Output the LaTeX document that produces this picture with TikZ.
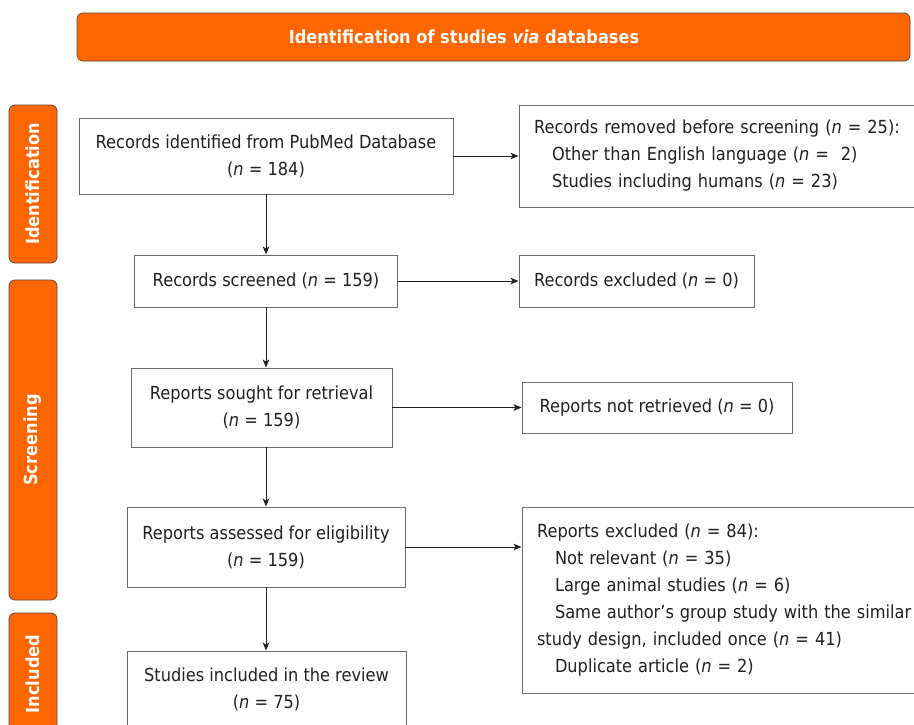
\documentclass[tikz,border=0pt]{standalone}
\usepackage{fontspec}
\setmainfont{DejaVu Sans}[FakeStretch=0.9]
\usetikzlibrary{arrows.meta}
\definecolor{orng}{HTML}{FF6600}
\definecolor{bord}{HTML}{5C4A3E}
\definecolor{boxline}{HTML}{6A6A6A}
\definecolor{txt}{HTML}{231F20}
\begin{document}
\begin{tikzpicture}[x=1pt,y=-1pt,
  box/.style={draw=boxline, line width=0.9pt, text=txt, inner sep=0pt,
    font=\fontsize{18}{27}\selectfont},
  cbox/.style={box, align=center},
  lbox/.style={box, align=left, inner xsep=15pt},
  phase/.style={draw=bord, fill=orng, rounded corners=6pt, line width=0.8pt,
    text=white, inner sep=0pt, font=\bfseries\fontsize{18}{18}\selectfont},
  arr/.style={draw=txt, line width=0.9pt, -{Stealth[length=8pt,width=6.5pt,inset=2pt]}}
]
\useasboundingbox (0,0) rectangle (914,724);

% title bar
\node[phase, minimum width=833pt, minimum height=48pt] (title) at (493.5,37) {};
\node[text=white, inner sep=0pt, font=\bfseries\fontsize{18}{18}\selectfont] (titletxt) at (464,37)
  {Identification of studies \textit{via} databases};

% phase bars
\node[phase, rotate=90, minimum width=158pt, minimum height=48pt] (idph) at (33,184) {Identification};
\node[phase, rotate=90, minimum width=320pt, minimum height=48pt] (scph) at (33,440) {Screening};
\node[phase, rotate=90, minimum width=122pt, minimum height=48pt] (incph) at (33,674) {Included};

% main column
\node[cbox, minimum width=374pt, minimum height=76pt] (rec) at (266,156)
  {Records identified from PubMed Database\\(\textit{n} = 184)};
\node[cbox, minimum width=263pt, minimum height=52pt] (scr) at (266,281)
  {Records screened (\textit{n} = 159)};
\node[cbox, minimum width=261pt, minimum height=79pt] (sou) at (261.5,407.5)
  {Reports sought for retrieval\\(\textit{n} = 159)};
\node[cbox, minimum width=278pt, minimum height=80pt] (ass) at (266,547)
  {Reports assessed for eligibility\\(\textit{n} = 159)};
\node[cbox, minimum width=279pt, minimum height=77pt] (inc) at (266.5,689.5)
  {Studies included in the review\\(\textit{n} = 75)};

% side boxes
\node[lbox, text width=400pt, minimum height=102pt] (rem) at (734,156)
  {Records removed before screening (\textit{n} = 25):\\
   \hspace*{18pt}Other than English language (\textit{n} =\ \ 2)\\
   \hspace*{18pt}Studies including humans (\textit{n} = 23)};
\node[cbox, minimum width=235pt, minimum height=52pt] (exc) at (636.5,281)
  {Records excluded (\textit{n} = 0)};
\node[cbox, minimum width=270pt, minimum height=51pt] (nret) at (657,407.5)
  {Reports not retrieved (\textit{n} = 0)};
\node[lbox, text width=400pt, minimum height=186pt] (rexc) at (737,600)
  {Reports excluded (\textit{n} = 84):\\
   \hspace*{18pt}Not relevant (\textit{n} = 35)\\
   \hspace*{18pt}Large animal studies (\textit{n} = 6)\\
   \hspace*{18pt}Same author’s group study with the similar\\
   study design, included once (\textit{n} = 41)\\
   \hspace*{18pt}Duplicate article (\textit{n} = 2)};

% connectors
\draw[arr] (rec.south) -- (rec.south |- scr.north);
\draw[arr] (scr.south) -- (scr.south |- sou.north);
\draw[arr] (scr.south |- sou.south) -- (scr.south |- ass.north);
\draw[arr] (ass.south) -- (ass.south |- inc.north);
\draw[arr] (rec.east) -- (rec.east -| rem.west);
\draw[arr] (scr.east) -- (exc.west);
\draw[arr] (sou.east) -- (nret.west);
\draw[arr] (ass.east) -- (ass.east -| rexc.west);
\end{tikzpicture}
\end{document}
